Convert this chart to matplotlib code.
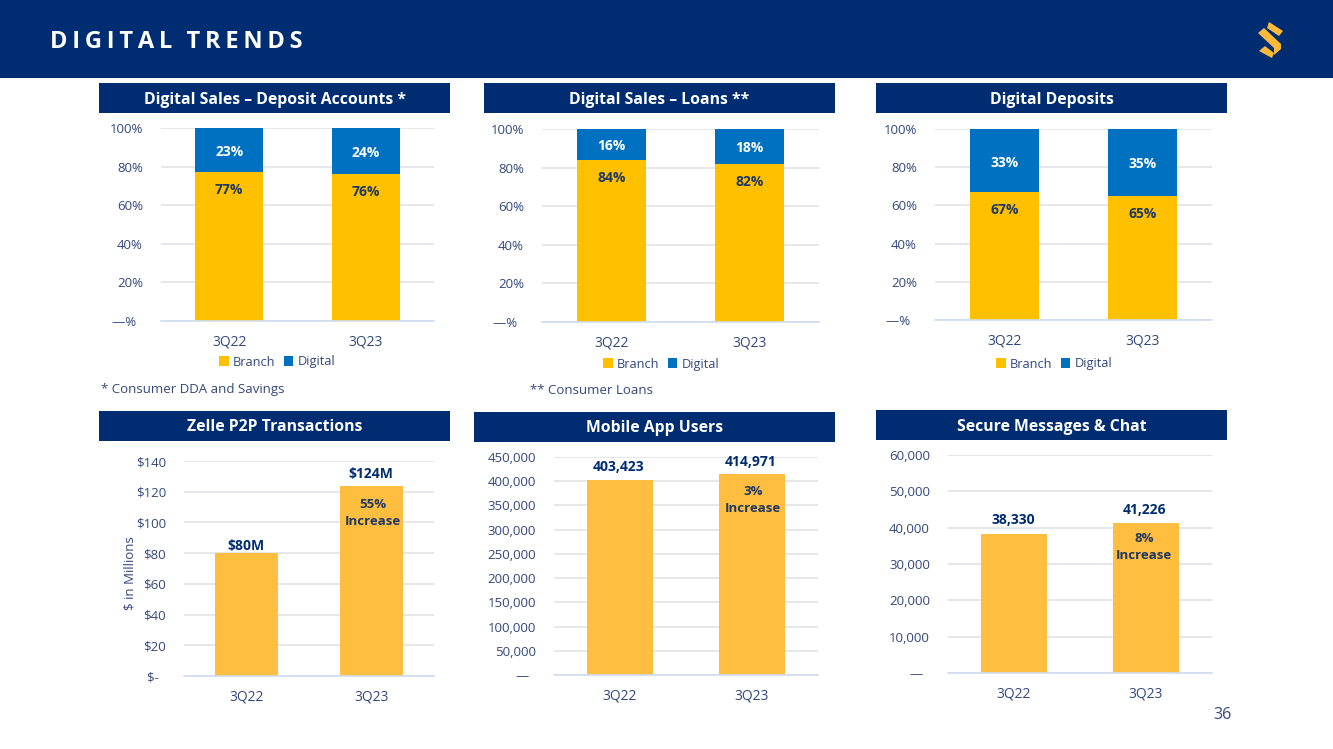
"""Digital trends slide: six small bar charts under a navy header."""
import matplotlib
matplotlib.use("Agg")
import matplotlib.pyplot as plt
from matplotlib.patches import Polygon, Rectangle

W, H = 1333, 749
NAVY = "#002D72"
TICK = "#33477A"
DARK = "#1F3864"
GOLD = "#FFC000"
GOLD_SOFT = "#FFBE3F"
BLUE = "#0070C0"
GRID = "#E1E3E8"
BASE = "#CFDDF0"

plt.rcParams["font.family"] = ["Open Sans", "DejaVu Sans"]

quarters = ["3Q22", "3Q23"]

deposit_branch = [77, 76]
deposit_digital = [23, 24]
loans_branch = [84, 82]
loans_digital = [16, 18]
deposits_branch = [67, 65]
deposits_digital = [33, 35]

zelle = [80, 124]
zelle_labels = ["$80M", "$124M"]
zelle_ticks = [0, 20, 40, 60, 80, 100, 120, 140]
zelle_ticklabels = ["$-  ", "$20", "$40", "$60", "$80", "$100", "$120", "$140"]

mobile = [403423, 414971]
mobile_labels = ["403,423", "414,971"]
mobile_ticks = [0, 50000, 100000, 150000, 200000, 250000, 300000, 350000, 400000, 450000]
mobile_ticklabels = ["—  ", "50,000", "100,000", "150,000", "200,000", "250,000",
                     "300,000", "350,000", "400,000", "450,000"]

secure = [38330, 41226]
secure_labels = ["38,330", "41,226"]
secure_ticks = [0, 10000, 20000, 30000, 40000, 50000, 60000]
secure_ticklabels = ["—  ", "10,000", "20,000", "30,000", "40,000", "50,000", "60,000"]

pct_ticks = [0, 20, 40, 60, 80, 100]
pct_ticklabels = ["—%  ", "20%", "40%", "60%", "80%", "100%"]

fig = plt.figure(figsize=(W / 100, H / 100), dpi=100, facecolor="white")


def px_axes(left, top, right, bottom):
    """Ejes definidos en pixeles de la imagen (origen arriba a la izquierda)."""
    ax = fig.add_axes([left / W, 1 - bottom / H, (right - left) / W, (bottom - top) / H])
    ax.set_xlim(-0.5, 1.5)
    ax.patch.set_alpha(0)
    for s in ["top", "left", "right"]:
        ax.spines[s].set_visible(False)
    ax.spines["bottom"].set_color(BASE)
    ax.spines["bottom"].set_linewidth(1.2)
    ax.grid(axis="y", color=GRID, lw=1.2)
    ax.set_axisbelow(True)
    ax.tick_params(length=0, labelcolor=TICK)
    ax.tick_params(axis="x", pad=10, labelsize=10)
    ax.tick_params(axis="y", pad=13, labelsize=9.5)
    ax.set_xticks([0, 1], quarters)
    return ax


def px_rect(left, top, right, bottom, color):
    fig.add_artist(Rectangle((left / W, 1 - bottom / H), (right - left) / W, (bottom - top) / H,
                             transform=fig.transFigure, color=color, lw=0))


def px_text(x, y, s, **kw):
    # Open Sans fica ~1.5 px acima do centro pedido
    fig.text(x / W, 1 - (y + 1.5) / H, s, va="center", **kw)


def panel_title(left, top, right, bottom, s):
    px_rect(left, top, right, bottom, NAVY)
    px_text((left + right) / 2, (top + bottom) / 2, s, ha="center", color="white",
            fontsize=11.3, fontweight="bold")


def stacked(box, branch, digital, legend_x, legend_y):
    ax = px_axes(*box)
    ax.set_ylim(0, 100)
    ax.set_yticks(pct_ticks, pct_ticklabels)
    ax.bar([0, 1], branch, width=0.5, color=GOLD, label="Branch")
    ax.bar([0, 1], digital, width=0.5, bottom=branch, color=BLUE, label="Digital")
    for i in range(2):
        ax.annotate(f"{branch[i]}%", (i, branch[i]), xytext=(0, -18), textcoords="offset pixels",
                    ha="center", va="center", fontsize=10, fontweight="bold", color=DARK)
        ax.annotate(f"{digital[i]}%", (i, branch[i] + digital[i] / 2), xytext=(0, -2),
                    textcoords="offset pixels", ha="center", va="center",
                    fontsize=10, fontweight="bold", color="white")
    anchor = ((legend_x - box[0]) / (box[2] - box[0]), 1 - (legend_y - box[1]) / (box[3] - box[1]))
    ax.legend(loc="center", bbox_to_anchor=anchor,
              ncol=2, frameon=False, fontsize=9.2, labelcolor=TICK, handlelength=0.75,
              handleheight=0.75, handletextpad=0.3, columnspacing=0.7, borderpad=0)
    return ax


def simple(box, values, ticks, ticklabels, labels, note, top_val, note_offset, note_dx, label_offsets):
    ax = px_axes(*box)
    ax.set_ylim(0, top_val)
    ax.set_yticks(ticks, ticklabels)
    ax.bar([0, 1], values, width=0.5, color=GOLD_SOFT)
    for i in range(2):
        ax.annotate(labels[i], (i, values[i]), xytext=(-1, label_offsets[i]), textcoords="offset pixels",
                    ha="center", va="bottom", fontsize=10, fontweight="bold", color=NAVY)
    ax.annotate(note, (1, values[1]), xytext=(note_dx, -note_offset), textcoords="offset pixels",
                ha="center", va="top", fontsize=9.5, fontweight="bold", color=DARK, linespacing=1.4)
    return ax


# cabecalho
px_rect(0, 0, W, 78, NAVY)
px_text(50, 41, "D\u2009I\u2009G\u2009I\u2009T\u2009A\u2009L\u2009\u2009\u2009T\u2009R\u2009E\u2009N\u2009D\u2009S",
        color="white", fontsize=17, fontweight="bold")
for pts in ([(1269, 22), (1283, 31), (1279, 36), (1267, 28)],
            [(1258, 33), (1264, 28), (1281, 44), (1281, 49), (1274, 55), (1274, 48)],
            [(1259, 51), (1265, 46), (1274, 53), (1272, 58)]):
    fig.add_artist(Polygon([(x / W, 1 - y / H) for x, y in pts], closed=True,
                           transform=fig.transFigure, color="#FDB93A", lw=0))

panel_title(99, 83, 450, 113, "Digital Sales – Deposit Accounts *")
panel_title(484, 83, 835, 113, "Digital Sales – Loans **")
panel_title(876, 83, 1227, 113, "Digital Deposits")
panel_title(99, 411, 450, 441, "Zelle P2P Transactions")
panel_title(474, 412, 835, 442, "Mobile App Users")
panel_title(876, 410, 1227, 440, "Secure Messages & Chat")

stacked((161, 128, 434, 321), deposit_branch, deposit_digital, 277, 362)
stacked((542, 129, 819, 322), loans_branch, loans_digital, 661, 364)
stacked((935, 129, 1212, 320), deposits_branch, deposits_digital, 1054, 364)

zelle_ax = simple((184, 461, 434, 676), zelle, zelle_ticks, zelle_ticklabels, zelle_labels,
                  "55%\nIncrease", 140, 12, 1, (0, 5))
zelle_ax.set_ylabel("$ in Millions", fontsize=9.5, color=TICK)
zelle_ax.yaxis.set_label_coords(-0.19, 0.477)
simple((554, 457, 818, 675), mobile, mobile_ticks, mobile_ticklabels, mobile_labels,
       "3%\nIncrease", 450000, 11, 1, (6, 5))
simple((948, 455, 1212, 673), secure, secure_ticks, secure_ticklabels, secure_labels,
       "8%\nIncrease", 60000, 9, -2, (7, 6))

px_text(101, 388.5, "* Consumer DDA and Savings", color=TICK, fontsize=9.5)
px_text(530, 388.5, "** Consumer Loans", color=TICK, fontsize=9.5)
px_text(1222, 713.5, "36", ha="center", color=TICK, fontsize=11.5)

fig.savefig("out.png", dpi=100)
